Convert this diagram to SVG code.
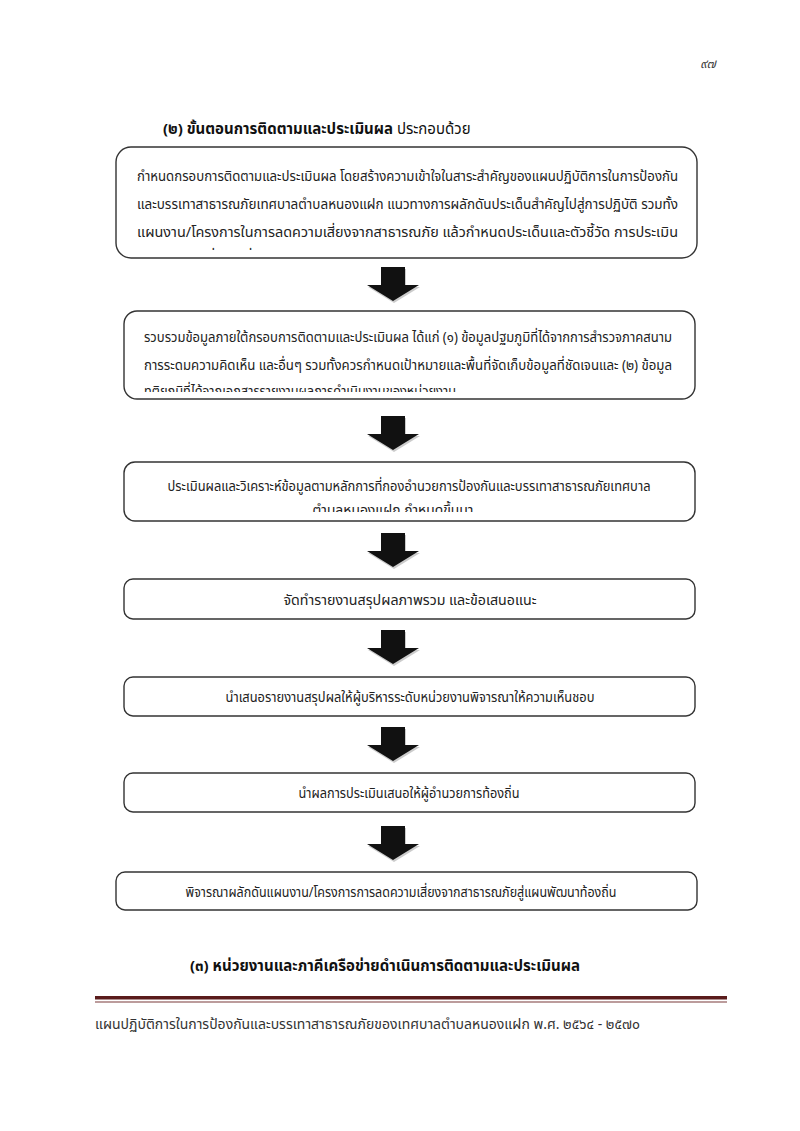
<svg xmlns="http://www.w3.org/2000/svg" width="800" height="1131" viewBox="0 0 800 1131">
<style>
text{font-family:"Noto Sans Thai","Loma","Garuda","Tlwg Typo","Noto Sans","DejaVu Sans",sans-serif;fill:#222;}
.t{font-size:14px;}
.h{font-size:15px;font-weight:bold;fill:#111;}
.box{fill:#fff;stroke:#333;stroke-width:1.4;}
.foot{font-size:14px;fill:#333;}
</style>
<defs>
<path id="arr" d="M-12,0 H12 V18 H26 L0,34 L-26,18 H-12 Z"/>
<clipPath id="c1"><rect x="116" y="147" width="581" height="103"/></clipPath>
<clipPath id="c2"><rect x="124" y="311" width="571" height="81"/></clipPath>
<clipPath id="c3"><rect x="124" y="462" width="571" height="50"/></clipPath>
</defs>
<rect width="800" height="1131" fill="#fff"/>
<text x="700" y="68" style="font-size:13px;font-style:italic;fill:#444">๙๗</text>
<text x="163" y="134" class="h">(๒) ขั้นตอนการติดตามและประเมินผล <tspan style="font-weight:normal">ประกอบด้วย</tspan></text>

<g id="connectors">
<use href="#arr" x="394" y="269" fill="#ccc"/>
<use href="#arr" x="393" y="267" fill="#111"/>
<use href="#arr" x="394" y="418" fill="#ccc"/>
<use href="#arr" x="393" y="416" fill="#111"/>
<use href="#arr" x="394" y="535" fill="#ccc"/>
<use href="#arr" x="393" y="533" fill="#111"/>
<use href="#arr" x="394" y="632" fill="#ccc"/>
<use href="#arr" x="393" y="630" fill="#111"/>
<use href="#arr" x="394" y="729" fill="#ccc"/>
<use href="#arr" x="393" y="727" fill="#111"/>
<use href="#arr" x="394" y="828" fill="#ccc"/>
<use href="#arr" x="393" y="826" fill="#111"/>
</g>

<g id="n1">
<rect class="box" x="116" y="147" width="581" height="111" rx="15"/>
<text class="t" x="137" y="181" textLength="541" lengthAdjust="spacingAndGlyphs">กำหนดกรอบการติดตามและประเมินผล โดยสร้างความเข้าใจในสาระสำคัญของแผนปฏิบัติการในการป้องกัน</text>
<text class="t" x="137" y="209" textLength="541" lengthAdjust="spacingAndGlyphs">และบรรเทาสาธารณภัยเทศบาลตำบลหนองแฝก  แนวทางการผลักดันประเด็นสำคัญไปสู่การปฏิบัติ รวมทั้ง</text>
<text class="t" x="137" y="237" textLength="541" lengthAdjust="spacingAndGlyphs">แผนงาน/โครงการในการลดความเสี่ยงจากสาธารณภัย แล้วกำหนดประเด็นและตัวชี้วัด การประเมิน</text>
<g clip-path="url(#c1)"><text class="t" x="137" y="262" textLength="540" lengthAdjust="spacingAndGlyphs">แหล่งข้อมูลที่ใช้ เครื่องมือในการประเมิน ผู้ประเมิน ระยะเวลาในการประเมิน และวิธีการวิเคราะห์</text></g>
</g>

<g id="n2">
<rect class="box" x="124" y="311" width="571" height="88" rx="13"/>
<text class="t" x="144" y="342" textLength="528" lengthAdjust="spacingAndGlyphs">รวบรวมข้อมูลภายใต้กรอบการติดตามและประเมินผล ได้แก่ (๑) ข้อมูลปฐมภูมิที่ได้จากการสำรวจภาคสนาม</text>
<text class="t" x="144" y="370" textLength="528" lengthAdjust="spacingAndGlyphs">การระดมความคิดเห็น และอื่นๆ รวมทั้งควรกำหนดเป้าหมายและพื้นที่จัดเก็บข้อมูลที่ชัดเจนและ (๒) ข้อมูล</text>
<g clip-path="url(#c2)"><text class="t" x="144" y="396" textLength="312" lengthAdjust="spacingAndGlyphs">ทุติยภูมิที่ได้จากเอกสารรายงานผลการดำเนินงานของหน่วยงาน</text></g>
</g>

<g id="n3">
<rect class="box" x="124" y="462" width="571" height="59" rx="11"/>
<text class="t" x="409" y="491" text-anchor="middle" textLength="483" lengthAdjust="spacingAndGlyphs">ประเมินผลและวิเคราะห์ข้อมูลตามหลักการที่กองอำนวยการป้องกันและบรรเทาสาธารณภัยเทศบาล</text>
<g clip-path="url(#c3)"><text class="t" x="393" y="515" text-anchor="middle" textLength="161" lengthAdjust="spacingAndGlyphs">ตำบลหนองแฝก  กำหนดขึ้นมา</text></g>
</g>

<g id="n4">
<rect class="box" x="124" y="579" width="571" height="40" rx="9"/>
<text class="t" x="410" y="605" text-anchor="middle" textLength="253" lengthAdjust="spacingAndGlyphs">จัดทำรายงานสรุปผลภาพรวม และข้อเสนอแนะ</text>
</g>

<g id="n5">
<rect class="box" x="124" y="677" width="571" height="39" rx="9"/>
<text class="t" x="410" y="702" text-anchor="middle" textLength="369" lengthAdjust="spacingAndGlyphs">นำเสนอรายงานสรุปผลให้ผู้บริหารระดับหน่วยงานพิจารณาให้ความเห็นชอบ</text>
</g>

<g id="n6">
<rect class="box" x="124" y="773" width="571" height="39" rx="9"/>
<text class="t" x="409" y="798" text-anchor="middle" textLength="221" lengthAdjust="spacingAndGlyphs">นำผลการประเมินเสนอให้ผู้อำนวยการท้องถิ่น</text>
</g>

<g id="n7">
<rect class="box" x="116" y="872" width="581" height="38" rx="9"/>
<text class="t" x="401" y="897" text-anchor="middle" textLength="431" lengthAdjust="spacingAndGlyphs">พิจารณาผลักดันแผนงาน/โครงการการลดความเสี่ยงจากสาธารณภัยสู่แผนพัฒนาท้องถิ่น</text>
</g>

<text x="190" y="971" class="h" textLength="390" lengthAdjust="spacingAndGlyphs">(๓) หน่วยงานและภาคีเครือข่ายดำเนินการติดตามและประเมินผล</text>

<rect x="95" y="996" width="632" height="3.5" fill="#5a1c1c"/>
<rect x="95" y="1001.5" width="632" height="1" fill="#7a3a3a"/>
<text x="95" y="1029" class="foot" textLength="545" lengthAdjust="spacingAndGlyphs">แผนปฏิบัติการในการป้องกันและบรรเทาสาธารณภัยของเทศบาลตำบลหนองแฝก พ.ศ. ๒๕๖๔ - ๒๕๗๐</text>
</svg>
